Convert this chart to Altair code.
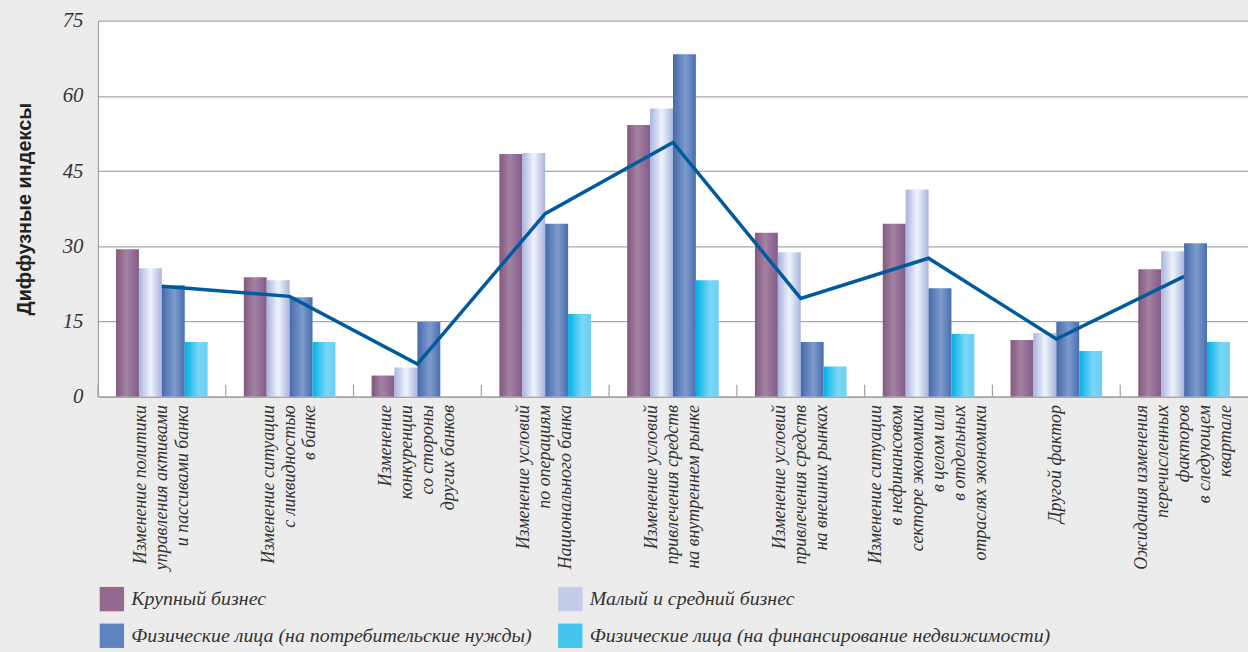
import altair as alt
import pandas as pd

categories = [
    "Изменение политики\nуправления активами\nи пассивами банка",
    "Изменение ситуации\nс ликвидностью\nв банке",
    "Изменение\nконкуренции\nсо стороны\nдругих банков",
    "Изменение условий\nпо операциям\nНационального банка",
    "Изменение условий\nпривлечения средств\nна внутреннем рынке",
    "Изменение условий\nпривлечения средств\nна внешних рынках",
    "Изменение ситуации\nв нефинансовом\nсекторе экономики\nв целом или\nв отдельных\nотраслях экономики",
    "Другой фактор",
    "Ожидания изменения\nперечисленных\nфакторов\nв следующем\nквартале",
]
series = [
    "Крупный бизнес",
    "Малый и средний бизнес",
    "Физические лица (на потребительские нужды)",
    "Физические лица (на финансирование недвижимости)",
]
large = [29.4, 23.8, 4.2, 48.4, 54.2, 32.7, 34.5, 11.3, 25.4]
sme = [25.6, 23.2, 5.8, 48.6, 57.5, 28.8, 41.3, 12.7, 29.0]
consumer = [22.2, 19.8, 14.9, 34.5, 68.3, 10.9, 21.6, 14.9, 30.6]
realty = [10.9, 10.9, 0.0, 16.5, 23.2, 6.0, 12.5, 9.1, 10.9]
overall = [22.0, 20.0, 6.5, 36.5, 50.7, 19.6, 27.6, 11.5, 24.0]
y_ticks = [0, 15, 30, 45, 60, 75]

solid = ["#94698f", "#c3cdea", "#5f83bf", "#45c4ee"]
grad_stops = [
    [("#85577f", 0), ("#a283a2", 0.45), ("#86598a", 1)],
    [("#a6b5dd", 0), ("#f0f3fb", 0.5), ("#a8b6dd", 1)],
    [("#4669ab", 0), ("#7c9ccd", 0.55), ("#4a6dae", 1)],
    [("#00b1e5", 0), ("#7ad6f6", 0.6), ("#6ccff2", 1)],
]

vals = [large, sme, consumer, realty]
rows = []
for s, v in zip(series, vals):
    for c, val in zip(categories, v):
        rows.append({"category": c, "series": s, "value": val})
df = pd.DataFrame(rows)
line_df = pd.DataFrame({"category": categories, "value": overall})
cat_df = pd.DataFrame({"category": categories})

LH = 21
nlines = "length(split(datum.value, '\\n'))"
label_offset = {
    "condition": [
        {"test": f"{nlines} == {n}", "value": -(n - 1) * LH / 2}
        for n in (2, 3, 4, 5, 6)
    ],
    "value": 0,
}

x_scale = alt.Scale(domain=categories, paddingInner=0, paddingOuter=0)
x_axis = alt.Axis(
    labelAngle=-90, labelAlign="right", labelBaseline="middle",
    labelFont="Liberation Serif", labelFontStyle="italic", labelFontSize=18,
    labelLineHeight=LH, labelPadding=8, labelColor="#333333", labelLimit=400,
    labelOverlap=False, labelFlush=False, ticks=False, domainColor="#a0a0a0",
    domainWidth=1.2, grid=False, title="", labelOffset=label_offset,
    labelExpr="split(datum.label, '\\n')",
)
y_scale = alt.Scale(domain=[0, 75], nice=False)
y_axis = alt.Axis(
    values=y_ticks, labelFont="Liberation Serif", labelFontStyle="italic",
    labelFontSize=21, labelColor="#333333", labelPadding=15, ticks=False,
    domainColor="#a0a0a0", domainWidth=1.2, grid=True, gridColor="#a8a8a8",
    gridWidth=1.3, title="Диффузные индексы", titleFont="Liberation Sans",
    titleFontWeight="bold", titleFontSize=20, titleColor="#222222",
    titleX=-68, titleY=189, titleAngle=-90, titleAlign="center",
    titleBaseline="alphabetic",
)
xo_scale = alt.Scale(domain=series, paddingInner=0, paddingOuter=0.79)

layers = []
for s, stops in zip(series, grad_stops):
    g = alt.Gradient(
        gradient="linear",
        stops=[alt.GradientStop(color=c, offset=o) for c, o in stops],
        x1=0, x2=1, y1=0, y2=0,
    )
    layers.append(
        alt.Chart(df).transform_filter(alt.datum.series == s)
        .mark_bar(color=g)
        .encode(
            x=alt.X("category:N", sort=categories, scale=x_scale, axis=x_axis),
            xOffset=alt.XOffset("series:N", sort=series, scale=xo_scale),
            y=alt.Y("value:Q", scale=y_scale, axis=y_axis),
        )
    )

ticks = alt.Chart(cat_df).mark_rule(color="#a0a0a0", strokeWidth=1.2).encode(
    x=alt.X("category:N", sort=categories, bandPosition=0),
    y=alt.value(366), y2=alt.value(378),
)

line = alt.Chart(line_df).mark_line(color="#005a9e", strokeWidth=3.5).encode(
    x=alt.X("category:N", sort=categories),
    y=alt.Y("value:Q"),
)

legend_layer = alt.Chart(df).mark_point(shape="square", filled=True, opacity=0).encode(
    x=alt.X("category:N", sort=categories),
    xOffset=alt.XOffset("series:N", sort=series),
    y=alt.Y("value:Q"),
    color=alt.Color(
        "series:N", sort=series,
        scale=alt.Scale(domain=series, range=solid),
        legend=alt.Legend(
            title=None, orient="none", legendX=1.5, legendY=569, columns=2,
            direction="horizontal",
            symbolType="square", symbolSize=600, symbolStrokeWidth=0,
            symbolOpacity=1, labelFont="Liberation Serif", labelFontStyle="italic",
            labelFontSize=20, labelColor="#333333", labelOffset=7,
            rowPadding=12, columnPadding=26, padding=0, labelLimit=700,
        ),
    ),
)

chart = alt.layer(*layers, ticks, line, legend_layer).properties(
    width=1156.5, height=378,
    autosize=alt.AutoSizeParams(type="none"),
    padding={"left": 98.5, "top": 19, "right": 0, "bottom": 255},
    background="#ececec",
).configure_view(fill="white", strokeWidth=0)

chart.save("out.html", embed_options={"renderer": "svg", "actions": False})
